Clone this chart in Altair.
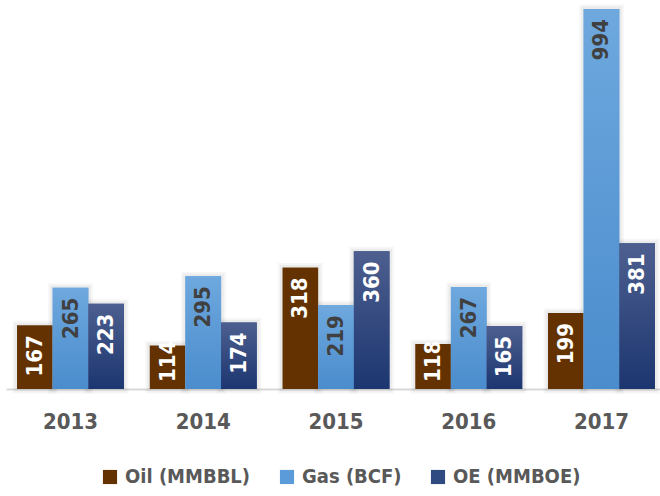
import altair as alt
import pandas as pd

years = ["2013", "2014", "2015", "2016", "2017"]
series = ["Oil (MMBBL)", "Gas (BCF)", "OE (MMBOE)"]
oil = [167, 114, 318, 118, 199]
gas = [265, 295, 219, 267, 994]
oe = [223, 174, 360, 165, 381]

rows = []
for i, y in enumerate(years):
    rows.append({"year": y, "series": series[0], "value": oil[i], "tc": "white"})
    rows.append({"year": y, "series": series[1], "value": gas[i], "tc": "dark"})
    rows.append({"year": y, "series": series[2], "value": oe[i], "tc": "white"})
df = pd.DataFrame(rows)

FONT = "DejaVu Sans Condensed"
colors = ["#633200", "#5b9bd9", "#2e4a80"]

x = alt.X("year:N", title=None, sort=years,
          scale=alt.Scale(paddingInner=0.194, paddingOuter=0.083, range=[6, 666]),
          axis=alt.Axis(labelAngle=0, labelFont=FONT, labelFontWeight="bold",
                        labelFontSize=22, labelColor="#595959", labelPadding=22,
                        ticks=False, domainColor="#d9d9d9", domainWidth=2))
xo = alt.XOffset("series:N", sort=series, scale=alt.Scale(domain=series, paddingInner=0))
y = alt.Y("value:Q", axis=None, scale=alt.Scale(domain=[0, 994], nice=False))

base = alt.Chart(df)

shadow1 = base.mark_bar(fill="#ffffff", stroke="#000000", strokeOpacity=0.035,
                        strokeWidth=9).encode(x=x, xOffset=xo, y=y)
shadow2 = base.mark_bar(fill="#ffffff", stroke="#000000", strokeOpacity=0.045,
                        strokeWidth=5).encode(x=x, xOffset=xo, y=y)

legend_bars = base.mark_bar().encode(
    x=x, xOffset=xo, y=y,
    color=alt.Color("series:N", sort=series,
                    scale=alt.Scale(domain=series, range=colors),
                    legend=alt.Legend(title=None, orient="none", direction="horizontal",
                                      legendX=100, legendY=458, padding=0,
                                      symbolType="square", symbolSize=200,
                                      symbolStrokeWidth=0, labelOffset=5,
                                      labelFont=FONT, labelFontWeight="bold",
                                      labelFontSize=20, labelColor="#595959",
                                      columnPadding=26)),
)

def grad(top, bottom):
    return alt.Gradient(gradient="linear", x1=0, x2=0, y1=0, y2=1,
                        stops=[alt.GradientStop(color=top, offset=0),
                               alt.GradientStop(color=bottom, offset=1)])

gas_bars = base.transform_filter(alt.datum.series == series[1]).mark_bar(
    color=grad("#6ea8de", "#4a8ccd")).encode(x=x, xOffset=xo, y=y)
oe_bars = base.transform_filter(alt.datum.series == series[2]).mark_bar(
    color=grad("#4d5f8f", "#1c3670")).encode(x=x, xOffset=xo, y=y)

tcolor = alt.Color("tc:N", scale=alt.Scale(domain=["white", "dark"],
                                            range=["#ffffff", "#404040"]), legend=None)

labels_top = base.transform_filter(alt.datum.value >= 150).mark_text(
    angle=270, align="right", baseline="middle", dx=-10,
    font=FONT, fontWeight="bold", fontSize=22).encode(
    x=x, xOffset=xo, y=y, text=alt.Text("value:Q"), color=tcolor)

labels_base = base.transform_filter(alt.datum.value < 150).mark_text(
    angle=270, align="left", baseline="middle", dx=7,
    font=FONT, fontWeight="bold", fontSize=22).encode(
    x=x, xOffset=xo, y=alt.datum(0, type="quantitative"), text=alt.Text("value:Q"),
    color=tcolor)

chart = alt.layer(shadow1, shadow2, legend_bars, gas_bars, oe_bars,
                  labels_top, labels_base).resolve_scale(
    color="independent"
).properties(
    width=660, height=380,
    autosize=alt.AutoSizeParams(type="none"),
    padding={"top": 9, "left": 0, "right": 0, "bottom": 107},
).configure_view(stroke=None)

chart.save("out.html", embed_options={"renderer": "svg", "actions": False})
